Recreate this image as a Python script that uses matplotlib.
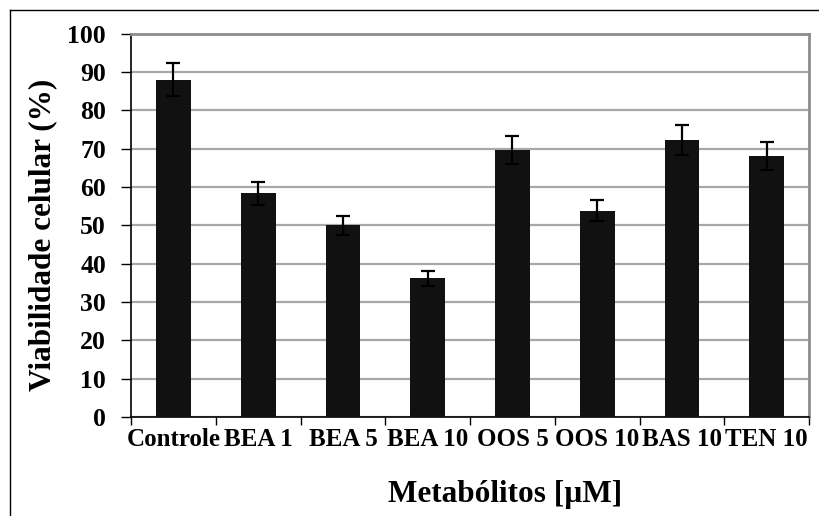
import matplotlib
matplotlib.use("Agg")
import matplotlib.pyplot as plt
import numpy as np
from matplotlib.lines import Line2D

# cell viability per metabolite treatment
categorias = ["Controle", "BEA 1", "BEA 5", "BEA 10", "OOS 5", "OOS 10", "BAS 10", "TEN 10"]
viabilidade = [88.0, 58.3, 50.0, 36.2, 69.7, 53.8, 72.2, 68.1]
erro = [4.4, 3.0, 2.5, 2.0, 3.6, 2.8, 3.9, 3.6]

plt.rcParams['font.family'] = ['Liberation Serif', 'DejaVu Serif']
plt.rcParams['font.weight'] = 'bold'

fig = plt.figure(figsize=(8.2, 5.16), dpi=100)
ax = fig.add_axes([0.1598, 0.1919, 0.8268, 0.7431])

x = np.arange(len(categorias))
ax.bar(x, viabilidade, width=0.41, color='#111111', zorder=3)
ax.errorbar(x, viabilidade, yerr=erro, fmt='none', ecolor='black',
            elinewidth=1.6, capsize=5, capthick=1.6, zorder=4)

ax.set_xlim(-0.5, len(categorias) - 0.5)
ax.set_ylim(0, 100)
ax.set_yticks(np.arange(0, 101, 10))
ax.yaxis.grid(True, color='#a8a8a8', linewidth=1.6, zorder=0)
ax.set_axisbelow(True)

# tick marks sit on category boundaries, labels centred on bars
ax.set_xticks(np.arange(-0.5, len(categorias), 1.0))
ax.set_xticklabels([])
ax.set_xticks(x, minor=True)
ax.set_xticklabels(categorias, minor=True, fontsize=18, fontweight='bold')
ax.tick_params(axis='x', which='minor', length=0, pad=8)
ax.tick_params(axis='x', which='major', length=6, width=1, direction='out')
ax.tick_params(axis='y', length=7, width=1, direction='out', labelsize=18.5, pad=11)
for lbl in ax.get_yticklabels():
    lbl.set_fontweight('bold')

for s in ['left', 'bottom']:
    ax.spines[s].set_color('black')
    ax.spines[s].set_linewidth(1.2)
for s in ['top', 'right']:
    ax.spines[s].set_color('#8c8c8c')
    ax.spines[s].set_linewidth(2)

ax.set_ylabel("Viabilidade celular (%)", fontsize=22.5, fontweight='bold', va='center')
ax.yaxis.set_label_coords(-0.131, 0.475)
ax.set_xlabel("Metabólitos [µM]", fontsize=22.5, fontweight='bold', va='center')
ax.xaxis.set_label_coords(0.552, -0.203)

# chart area border
fig.add_artist(Line2D([0.0122, 0.0122], [0.0, 0.9806], color='black', linewidth=1,
                      transform=fig.transFigure))
fig.add_artist(Line2D([0.0122, 1.0], [0.9806, 0.9806], color='black', linewidth=1,
                      transform=fig.transFigure))

fig.savefig("out.png", dpi=100)
